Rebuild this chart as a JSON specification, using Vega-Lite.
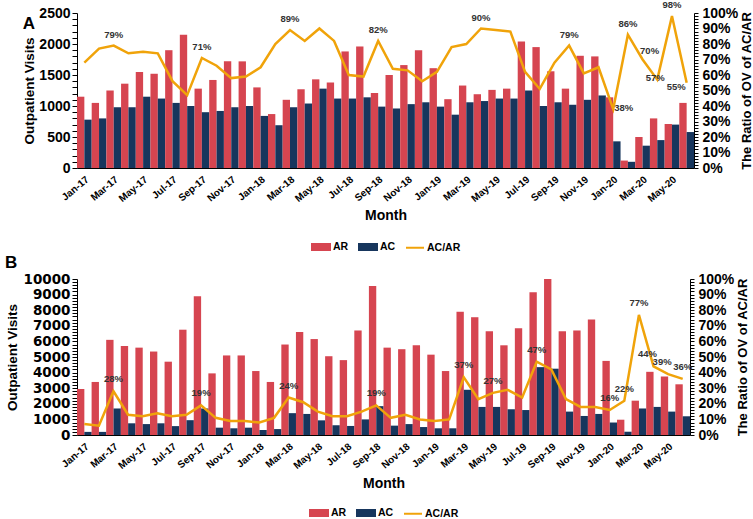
{
  "$schema": "https://vega.github.io/schema/vega-lite/v6.json",
  "padding": {"left": 5, "top": 0, "right": 0, "bottom": 0},
  "background": "white",
  "config": {
    "font": "Liberation Sans",
    "view": {"stroke": null},
    "axis": {"domainColor": "#000", "tickColor": "#000", "labelColor": "#000", "titleColor": "#000", "labelFont": "Liberation Sans", "titleFont": "Liberation Sans", "labelFontWeight": "bold", "titleFontWeight": "bold", "grid": false},
    "legend": {"labelFont": "Liberation Sans", "labelFontWeight": "bold", "labelColor": "#000", "layout": {"bottom": {"anchor": "middle"}}}
  },
  "datasets": {
    "a": [
      {"m": "Jan-17", "AR": 1150, "AC": 780, "r": 68, "lab": ""},
      {"m": "Feb-17", "AR": 1050, "AC": 800, "r": 77, "lab": ""},
      {"m": "Mar-17", "AR": 1250, "AC": 980, "r": 79, "lab": "79%"},
      {"m": "Apr-17", "AR": 1360, "AC": 980, "r": 74, "lab": ""},
      {"m": "May-17", "AR": 1550, "AC": 1150, "r": 75, "lab": ""},
      {"m": "Jun-17", "AR": 1520, "AC": 1120, "r": 74, "lab": ""},
      {"m": "Jul-17", "AR": 1900, "AC": 1050, "r": 56, "lab": ""},
      {"m": "Aug-17", "AR": 2150, "AC": 1000, "r": 47, "lab": ""},
      {"m": "Sep-17", "AR": 1280, "AC": 900, "r": 71, "lab": "71%"},
      {"m": "Oct-17", "AR": 1420, "AC": 920, "r": 66, "lab": ""},
      {"m": "Nov-17", "AR": 1720, "AC": 980, "r": 58, "lab": ""},
      {"m": "Dec-17", "AR": 1720, "AC": 1000, "r": 59, "lab": ""},
      {"m": "Jan-18", "AR": 1300, "AC": 840, "r": 65, "lab": ""},
      {"m": "Feb-18", "AR": 870, "AC": 690, "r": 80, "lab": ""},
      {"m": "Mar-18", "AR": 1100, "AC": 980, "r": 89, "lab": "89%"},
      {"m": "Apr-18", "AR": 1270, "AC": 1040, "r": 82, "lab": ""},
      {"m": "May-18", "AR": 1430, "AC": 1280, "r": 90, "lab": ""},
      {"m": "Jun-18", "AR": 1380, "AC": 1120, "r": 82, "lab": ""},
      {"m": "Jul-18", "AR": 1880, "AC": 1120, "r": 60, "lab": ""},
      {"m": "Aug-18", "AR": 1960, "AC": 1140, "r": 59, "lab": ""},
      {"m": "Sep-18", "AR": 1210, "AC": 990, "r": 82, "lab": "82%"},
      {"m": "Oct-18", "AR": 1500, "AC": 960, "r": 64, "lab": ""},
      {"m": "Nov-18", "AR": 1660, "AC": 1030, "r": 63, "lab": ""},
      {"m": "Dec-18", "AR": 1900, "AC": 1060, "r": 56, "lab": ""},
      {"m": "Jan-19", "AR": 1610, "AC": 990, "r": 62, "lab": ""},
      {"m": "Feb-19", "AR": 1110, "AC": 860, "r": 78, "lab": ""},
      {"m": "Mar-19", "AR": 1330, "AC": 1060, "r": 80, "lab": ""},
      {"m": "Apr-19", "AR": 1190, "AC": 1080, "r": 90, "lab": "90%"},
      {"m": "May-19", "AR": 1260, "AC": 1120, "r": 89, "lab": ""},
      {"m": "Jun-19", "AR": 1280, "AC": 1120, "r": 88, "lab": ""},
      {"m": "Jul-19", "AR": 2040, "AC": 1250, "r": 62, "lab": ""},
      {"m": "Aug-19", "AR": 1950, "AC": 1000, "r": 51, "lab": ""},
      {"m": "Sep-19", "AR": 1560, "AC": 1060, "r": 68, "lab": ""},
      {"m": "Oct-19", "AR": 1280, "AC": 1020, "r": 79, "lab": "79%"},
      {"m": "Nov-19", "AR": 1810, "AC": 1100, "r": 61, "lab": ""},
      {"m": "Dec-19", "AR": 1800, "AC": 1170, "r": 65, "lab": ""},
      {"m": "Jan-20", "AR": 1140, "AC": 430, "r": 38, "lab": "38%"},
      {"m": "Feb-20", "AR": 120, "AC": 100, "r": 86, "lab": "86%"},
      {"m": "Mar-20", "AR": 500, "AC": 360, "r": 70, "lab": "70%"},
      {"m": "Apr-20", "AR": 800, "AC": 450, "r": 57, "lab": "57%"},
      {"m": "May-20", "AR": 710, "AC": 700, "r": 98, "lab": "98%"},
      {"m": "Jun-20", "AR": 1050, "AC": 580, "r": 55, "lab": "55%"}
    ],
    "b": [
      {"m": "Jan-17", "AR": 2950, "AC": 200, "r": 7, "lab": ""},
      {"m": "Feb-17", "AR": 3400, "AC": 200, "r": 6, "lab": ""},
      {"m": "Mar-17", "AR": 6100, "AC": 1700, "r": 28, "lab": "28%"},
      {"m": "Apr-17", "AR": 5700, "AC": 750, "r": 13, "lab": ""},
      {"m": "May-17", "AR": 5600, "AC": 700, "r": 12, "lab": ""},
      {"m": "Jun-17", "AR": 5350, "AC": 750, "r": 14, "lab": ""},
      {"m": "Jul-17", "AR": 4700, "AC": 570, "r": 12, "lab": ""},
      {"m": "Aug-17", "AR": 6750, "AC": 950, "r": 13, "lab": ""},
      {"m": "Sep-17", "AR": 8900, "AC": 1700, "r": 19, "lab": "19%"},
      {"m": "Oct-17", "AR": 3950, "AC": 470, "r": 11, "lab": ""},
      {"m": "Nov-17", "AR": 5100, "AC": 430, "r": 9, "lab": ""},
      {"m": "Dec-17", "AR": 5100, "AC": 470, "r": 9, "lab": ""},
      {"m": "Jan-18", "AR": 4100, "AC": 320, "r": 8, "lab": ""},
      {"m": "Feb-18", "AR": 3400, "AC": 380, "r": 11, "lab": ""},
      {"m": "Mar-18", "AR": 5800, "AC": 1400, "r": 24, "lab": "24%"},
      {"m": "Apr-18", "AR": 6600, "AC": 1350, "r": 21, "lab": ""},
      {"m": "May-18", "AR": 6150, "AC": 940, "r": 15, "lab": ""},
      {"m": "Jun-18", "AR": 5050, "AC": 620, "r": 12, "lab": ""},
      {"m": "Jul-18", "AR": 4800, "AC": 580, "r": 12, "lab": ""},
      {"m": "Aug-18", "AR": 6700, "AC": 1000, "r": 15, "lab": ""},
      {"m": "Sep-18", "AR": 9550, "AC": 1850, "r": 19, "lab": "19%"},
      {"m": "Oct-18", "AR": 5600, "AC": 600, "r": 11, "lab": ""},
      {"m": "Nov-18", "AR": 5500, "AC": 700, "r": 13, "lab": ""},
      {"m": "Dec-18", "AR": 5750, "AC": 510, "r": 10, "lab": ""},
      {"m": "Jan-19", "AR": 5150, "AC": 430, "r": 9, "lab": ""},
      {"m": "Feb-19", "AR": 4100, "AC": 430, "r": 10, "lab": ""},
      {"m": "Mar-19", "AR": 7900, "AC": 2900, "r": 37, "lab": "37%"},
      {"m": "Apr-19", "AR": 7550, "AC": 1800, "r": 23, "lab": ""},
      {"m": "May-19", "AR": 6650, "AC": 1800, "r": 27, "lab": "27%"},
      {"m": "Jun-19", "AR": 5750, "AC": 1650, "r": 29, "lab": ""},
      {"m": "Jul-19", "AR": 6850, "AC": 1600, "r": 24, "lab": ""},
      {"m": "Aug-19", "AR": 9150, "AC": 4350, "r": 47, "lab": "47%"},
      {"m": "Sep-19", "AR": 10000, "AC": 4250, "r": 42, "lab": ""},
      {"m": "Oct-19", "AR": 6650, "AC": 1500, "r": 23, "lab": ""},
      {"m": "Nov-19", "AR": 6700, "AC": 1220, "r": 18, "lab": ""},
      {"m": "Dec-19", "AR": 7400, "AC": 1350, "r": 18, "lab": ""},
      {"m": "Jan-20", "AR": 4750, "AC": 800, "r": 16, "lab": "16%"},
      {"m": "Feb-20", "AR": 980, "AC": 210, "r": 22, "lab": "22%"},
      {"m": "Mar-20", "AR": 2200, "AC": 1700, "r": 77, "lab": "77%"},
      {"m": "Apr-20", "AR": 4050, "AC": 1800, "r": 44, "lab": "44%"},
      {"m": "May-20", "AR": 3750, "AC": 1500, "r": 39, "lab": "39%"},
      {"m": "Jun-20", "AR": 3250, "AC": 1200, "r": 36, "lab": "36%"}
    ]
  },
  "concat": [
    {
      "title": {"text": "A", "anchor": "start", "frame": "bounds", "orient": "top", "offset": -15, "baseline": "alphabetic", "dy": 31, "fontSize": 17, "fontWeight": "bold", "font": "Liberation Sans", "color": "#000"},
      "width": 617,
      "height": 155,
      "data": {"name": "a"},
      "layer": [
        {
          "transform": [{"fold": ["AR", "AC"], "as": ["series", "value"]}],
          "mark": {"type": "bar"},
          "encoding": {
            "x": {"field": "m", "type": "ordinal", "sort": null, "scale": {"paddingInner": 0, "paddingOuter": 0},
              "axis": {"title": "Month", "values": ["Jan-17","Mar-17","May-17","Jul-17","Sep-17","Nov-17","Jan-18","Mar-18","May-18","Jul-18","Sep-18","Nov-18","Jan-19","Mar-19","May-19","Jul-19","Sep-19","Nov-19","Jan-20","Mar-20","May-20"], "labelAngle": -40, "labelFontSize": 10, "ticks": false, "labelPadding": 6, "titleFontSize": 14, "titlePadding": 5}},
            "xOffset": {"field": "series", "type": "nominal", "sort": ["AR", "AC"], "scale": {"paddingInner": 0, "paddingOuter": 0}},
            "y": {"field": "value", "type": "quantitative", "scale": {"domain": [0, 2500], "nice": false},
              "axis": {"title": "Outpatient Visits", "format": "d", "values": [0,100,200,300,400,500,600,700,800,900,1000,1100,1200,1300,1400,1500,1600,1700,1800,1900,2000,2100,2200,2300,2400,2500], "labelExpr": "datum.value % 500 === 0 ? datum.label : ''", "labelOverlap": false, "labelFontSize": 14, "titleFontSize": 13.5, "tickSize": 5, "labelPadding": 2, "titlePadding": 2, "encode": {"ticks": {"update": {"x2": {"signal": "datum.value % 500 === 0 ? -5 : -3"}}}}}},
            "color": {"field": "series", "type": "nominal", "scale": {"domain": ["AR", "AC", "AC/AR"], "range": ["#D64550", "#17365D", "#F0A30A"]},
              "legend": {"orient": "bottom", "direction": "horizontal", "title": null, "labelFontSize": 10.5, "symbolSize": 324, "labelOffset": 2, "columnPadding": 6, "offset": 14,
                "encode": {"symbols": {"update": {
                  "shape": {"signal": "datum.value === 'AC/AR' ? 'M-1,0H1' : 'M-1,-0.33H1V0.33H-1Z'"},
                  "fill": {"signal": "datum.value === 'AR' ? '#D64550' : datum.value === 'AC' ? '#17365D' : 'transparent'"},
                  "stroke": {"signal": "datum.value === 'AC/AR' ? '#F0A30A' : 'transparent'"},
                  "strokeWidth": {"value": 2}, "opacity": {"value": 1}}}}}}
          }
        },
        {
          "mark": {"type": "line", "strokeWidth": 2.5},
          "encoding": {
            "x": {"field": "m", "type": "ordinal", "sort": null},
            "y": {"field": "r", "type": "quantitative", "scale": {"domain": [0, 100], "nice": false},
              "axis": {"orient": "right", "title": "The Ratio of OV of AC/AR", "titleAngle": 270, "titleBaseline": "top", "values": [0,2,4,6,8,10,12,14,16,18,20,22,24,26,28,30,32,34,36,38,40,42,44,46,48,50,52,54,56,58,60,62,64,66,68,70,72,74,76,78,80,82,84,86,88,90,92,94,96,98,100], "labelExpr": "datum.value % 10 === 0 ? datum.value + '%' : ''", "labelOverlap": false, "labelFontSize": 14, "titleFontSize": 13, "tickSize": 4, "labelPadding": 4, "titlePadding": 3}},
            "color": {"datum": "AC/AR"}
          }
        },
        {
          "transform": [{"filter": {"field": "m", "oneOf": ["Mar-17", "Sep-17", "Mar-18", "Sep-18", "Apr-19", "Oct-19", "Feb-20", "May-20"]}}],
          "mark": {"type": "text", "dy": -11, "fontSize": 9.5, "fontWeight": "bold", "color": "#333"},
          "encoding": {"x": {"field": "m", "type": "ordinal", "sort": null}, "y": {"field": "r", "type": "quantitative", "scale": {"domain": [0, 100], "nice": false}, "axis": null}, "text": {"field": "lab"}}
        },
        {
          "transform": [{"filter": {"field": "m", "oneOf": ["Mar-20"]}}],
          "mark": {"type": "text", "dy": -9, "dx": 7, "fontSize": 9.5, "fontWeight": "bold", "color": "#333"},
          "encoding": {"x": {"field": "m", "type": "ordinal", "sort": null}, "y": {"field": "r", "type": "quantitative", "scale": {"domain": [0, 100], "nice": false}, "axis": null}, "text": {"field": "lab"}}
        },
        {
          "transform": [{"filter": {"field": "m", "oneOf": ["Jan-20"]}}],
          "mark": {"type": "text", "align": "left", "dx": 1, "dy": -1, "fontSize": 9.5, "fontWeight": "bold", "color": "#333"},
          "encoding": {"x": {"field": "m", "type": "ordinal", "sort": null}, "y": {"field": "r", "type": "quantitative", "scale": {"domain": [0, 100], "nice": false}, "axis": null}, "text": {"field": "lab"}}
        },
        {
          "transform": [{"filter": {"field": "m", "oneOf": ["Apr-20"]}}],
          "mark": {"type": "text", "dy": -2, "dx": -2, "fontSize": 9.5, "fontWeight": "bold", "color": "#333"},
          "encoding": {"x": {"field": "m", "type": "ordinal", "sort": null}, "y": {"field": "r", "type": "quantitative", "scale": {"domain": [0, 100], "nice": false}, "axis": null}, "text": {"field": "lab"}}
        },
        {
          "transform": [{"filter": {"field": "m", "oneOf": ["Jun-20"]}}],
          "mark": {"type": "text", "align": "right", "dx": -1, "dy": 4, "fontSize": 9.5, "fontWeight": "bold", "color": "#333"},
          "encoding": {"x": {"field": "m", "type": "ordinal", "sort": null}, "y": {"field": "r", "type": "quantitative", "scale": {"domain": [0, 100], "nice": false}, "axis": null}, "text": {"field": "lab"}}
        }
      ],
      "resolve": {"scale": {"y": "independent"}}
    },
    {
      "title": {"text": "B", "anchor": "start", "frame": "bounds", "orient": "top", "offset": 4, "baseline": "alphabetic", "dy": 17, "fontSize": 17, "fontWeight": "bold", "font": "Liberation Sans", "color": "#000"},
      "width": 613,
      "height": 156,
      "data": {"name": "b"},
      "layer": [
        {
          "transform": [{"fold": ["AR", "AC"], "as": ["series", "value"]}],
          "mark": {"type": "bar"},
          "encoding": {
            "x": {"field": "m", "type": "ordinal", "sort": null, "scale": {"paddingInner": 0, "paddingOuter": 0},
              "axis": {"title": "Month", "values": ["Jan-17","Mar-17","May-17","Jul-17","Sep-17","Nov-17","Jan-18","Mar-18","May-18","Jul-18","Sep-18","Nov-18","Jan-19","Mar-19","May-19","Jul-19","Sep-19","Nov-19","Jan-20","Mar-20","May-20"], "labelAngle": -40, "labelFontSize": 10, "ticks": false, "labelPadding": 6, "titleFontSize": 14, "titlePadding": 6}},
            "xOffset": {"field": "series", "type": "nominal", "sort": ["AR", "AC"], "scale": {"paddingInner": 0, "paddingOuter": 0}},
            "y": {"field": "value", "type": "quantitative", "scale": {"domain": [0, 10000], "nice": false},
              "axis": {"title": "Outpatient Visits", "values": [0,200,400,600,800,1000,1200,1400,1600,1800,2000,2200,2400,2600,2800,3000,3200,3400,3600,3800,4000,4200,4400,4600,4800,5000,5200,5400,5600,5800,6000,6200,6400,6600,6800,7000,7200,7400,7600,7800,8000,8200,8400,8600,8800,9000,9200,9400,9600,9800,10000], "labelExpr": "datum.value % 1000 === 0 ? datum.label : ''", "format": "d", "labelOverlap": false, "labelFont": "DejaVu Sans", "labelFontSize": 13.5, "titleFontSize": 13.5, "tickSize": 5, "labelPadding": 2, "titlePadding": 4, "encode": {"ticks": {"update": {"x2": {"signal": "datum.value % 1000 === 0 ? -5 : -3"}}}}}},
            "color": {"field": "series", "type": "nominal", "scale": {"domain": ["AR", "AC", "AC/AR"], "range": ["#D64550", "#17365D", "#F0A30A"]},
              "legend": {"orient": "bottom", "direction": "horizontal", "title": null, "labelFontSize": 10.5, "symbolSize": 324, "labelOffset": 2, "columnPadding": 6, "offset": 12,
                "encode": {"symbols": {"update": {
                  "shape": {"signal": "datum.value === 'AC/AR' ? 'M-1,0H1' : 'M-1,-0.33H1V0.33H-1Z'"},
                  "fill": {"signal": "datum.value === 'AR' ? '#D64550' : datum.value === 'AC' ? '#17365D' : 'transparent'"},
                  "stroke": {"signal": "datum.value === 'AC/AR' ? '#F0A30A' : 'transparent'"},
                  "strokeWidth": {"value": 2}, "opacity": {"value": 1}}}}}}
          }
        },
        {
          "mark": {"type": "line", "strokeWidth": 2.5},
          "encoding": {
            "x": {"field": "m", "type": "ordinal", "sort": null},
            "y": {"field": "r", "type": "quantitative", "scale": {"domain": [0, 100], "nice": false},
              "axis": {"orient": "right", "title": "The Ratio of OV of AC/AR", "titleAngle": 270, "titleBaseline": "top", "values": [0,2,4,6,8,10,12,14,16,18,20,22,24,26,28,30,32,34,36,38,40,42,44,46,48,50,52,54,56,58,60,62,64,66,68,70,72,74,76,78,80,82,84,86,88,90,92,94,96,98,100], "labelExpr": "datum.value % 10 === 0 ? datum.value + '%' : ''", "labelOverlap": false, "labelFontSize": 14, "titleFontSize": 13, "tickSize": 4, "labelPadding": 4, "titlePadding": 3}},
            "color": {"datum": "AC/AR"}
          }
        },
        {
          "transform": [{"filter": {"field": "m", "oneOf": ["Mar-17", "Sep-17", "Mar-18", "Sep-18", "Mar-19", "May-19", "Aug-19", "Jan-20", "Feb-20", "Mar-20", "Jun-20"]}}],
          "mark": {"type": "text", "dy": -12, "fontSize": 9.5, "fontWeight": "bold", "color": "#333"},
          "encoding": {"x": {"field": "m", "type": "ordinal", "sort": null}, "y": {"field": "r", "type": "quantitative", "scale": {"domain": [0, 100], "nice": false}, "axis": null}, "text": {"field": "lab"}}
        },
        {
          "transform": [{"filter": {"field": "m", "oneOf": ["Apr-20", "May-20"]}}],
          "mark": {"type": "text", "dy": -12, "dx": -6, "fontSize": 9.5, "fontWeight": "bold", "color": "#333"},
          "encoding": {"x": {"field": "m", "type": "ordinal", "sort": null}, "y": {"field": "r", "type": "quantitative", "scale": {"domain": [0, 100], "nice": false}, "axis": null}, "text": {"field": "lab"}}
        }
      ],
      "resolve": {"scale": {"y": "independent"}}
    }
  ],
  "columns": 1,
  "align": "none",
  "spacing": 0,
  "resolve": {"scale": {"color": "independent"}, "legend": {"color": "independent"}}
}
